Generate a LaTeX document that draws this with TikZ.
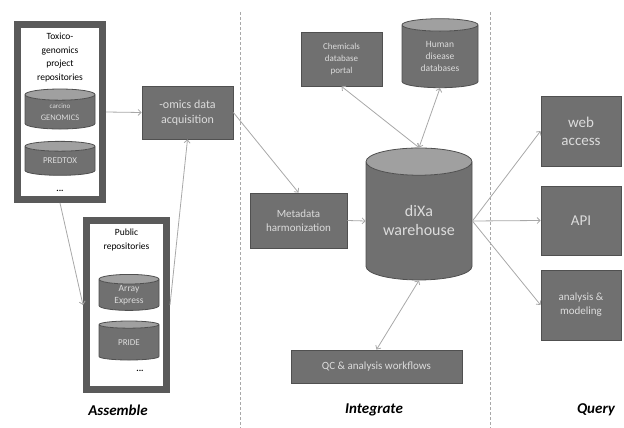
\documentclass[tikz,border=0pt]{standalone}
\usepackage{fontspec}
\setmainfont{Carlito}
\usetikzlibrary{shapes.geometric,arrows.meta}

\definecolor{boxfill}{HTML}{707070}
\definecolor{boxline}{HTML}{505050}
\definecolor{boxtext}{HTML}{DCDCDC}
\definecolor{dbtop}{HTML}{A0A0A0}
\definecolor{framegray}{HTML}{5A5A5A}
\definecolor{linkgray}{HTML}{A8A8A8}

\begin{document}
\begin{tikzpicture}[x=1pt,y=-1pt,
	box/.style={rectangle,draw=boxline,fill=boxfill,text=boxtext,align=center,inner sep=0pt,line width=0.8pt},
	db/.style={cylinder,shape border rotate=90,draw=boxline,line width=0.8pt,text=boxtext,align=center,inner sep=0pt,
		cylinder uses custom fill,cylinder body fill=boxfill,cylinder end fill=dbtop},
	frame/.style={rectangle,draw=framegray,line width=7pt,fill=white,inner sep=0pt},
	link/.style={draw=linkgray,line width=0.8pt,-{Straight Barb[length=3pt,width=6pt]}},
	both/.style={link,{Straight Barb[length=3pt,width=6pt]}-{Straight Barb[length=3pt,width=6pt]}},
	divider/.style={draw=linkgray,densely dashed,line width=0.8pt},
	phase/.style={font=\fontsize{15}{18}\selectfont\bfseries\itshape}]
		\useasboundingbox (0,0) rectangle (624,428);
		
		%dividers
		\draw[divider] (240,12) -- (240,428);
		\draw[divider] (490,12) -- (490,428);
		
		%assemble
		\node[frame,minimum width=85,minimum height=175] (toxico) at (60,112) {};
		\node[align=center,font=\fontsize{9.5}{13.5}\selectfont] (toxicotitle) at (60,57.5) {Toxico-\\genomics\\project\\repositories};
		\node[db,minimum width=70,minimum height=40,aspect=0.29] (carcino) at (60,112)
			{{\fontsize{7}{8}\selectfont carcino}\\{\fontsize{8.5}{10}\selectfont GENOMICS}};
		\node[db,minimum width=70,minimum height=34,aspect=0.29,font=\fontsize{9}{11}\selectfont] (predtox) at (60,161) {PREDTOX};
		\node[font=\fontsize{9}{11}\selectfont\bfseries] (toxicodots) at (60,191) {...};
		
		\node[frame,minimum width=80,minimum height=169] (public) at (126.5,305) {};
		\node[align=center,font=\fontsize{9.5}{13.5}\selectfont] (publictitle) at (126.5,240) {Public\\repositories};
		\node[db,minimum width=60,minimum height=36,aspect=0.33,font=\fontsize{9.5}{12}\selectfont] (array) at (129,295) {Array\\Express};
		\node[db,minimum width=60,minimum height=39,aspect=0.33,font=\fontsize{9}{11}\selectfont] (pride) at (129,342.5) {PRIDE};
		\node[font=\fontsize{9}{11}\selectfont\bfseries] (publicdots) at (140,371) {...};
		
		\node[box,minimum width=91,minimum height=53,font=\fontsize{12}{15}\selectfont] (omics) at (187.5,112.5) {-omics data\\acquisition};
		
		%integrate
		\node[box,minimum width=97,minimum height=55,font=\fontsize{11}{14}\selectfont] (metadata) at (298.5,220.5) {Metadata\\harmonization};
		\node[db,minimum width=106,minimum height=132,aspect=0.38,font=\fontsize{16}{19}\selectfont] (dixa) at (419,221) {diXa\\warehouse};
		\node[box,minimum width=81,minimum height=54,font=\fontsize{9}{12}\selectfont] (chemicals) at (341.5,59) {Chemicals\\database\\portal};
		\node[db,minimum width=76,minimum height=69,aspect=0.32,font=\fontsize{9.5}{12}\selectfont] (human) at (440,56.5) {Human\\disease\\databases};
		\node[box,minimum width=171,minimum height=33,font=\fontsize{11}{14}\selectfont] (qc) at (376.5,366.5) {QC \& analysis workflows};
		
		%query
		\node[box,minimum width=80,minimum height=70,font=\fontsize{15}{18}\selectfont] (web) at (581,131) {web\\access};
		\node[box,minimum width=80,minimum height=69,font=\fontsize{15}{18}\selectfont] (api) at (581,220.5) {API};
		\node[box,minimum width=80,minimum height=70,font=\fontsize{11}{14}\selectfont] (analysis) at (581,305) {analysis \&\\modeling};
		
		%connectors
		\draw[link] (toxico.east) -- (omics.west);
		\draw[link] (toxico.south) -- (public.west);
		\draw[link] (public.east) -- (omics.south);
		\draw[link] (omics.east) -- (metadata.north);
		\draw[link] (metadata.east) -- (dixa.west);
		\draw[both] (chemicals.south) -- (dixa.north);
		\draw[both] (human.south) -- (dixa.north);
		\draw[both] (qc.north) -- (dixa.south);
		\draw[link] (dixa.east) -- (web.west);
		\draw[link] (dixa.east) -- (api.west);
		\draw[link] (dixa.east) -- (analysis.west);
		
		%phases
		\node[phase] (assemble) at (118,410) {Assemble};
		\node[phase] (integrate) at (374,410) {Integrate};
		\node[phase] (query) at (596,410) {Query};
\end{tikzpicture}
\end{document}
